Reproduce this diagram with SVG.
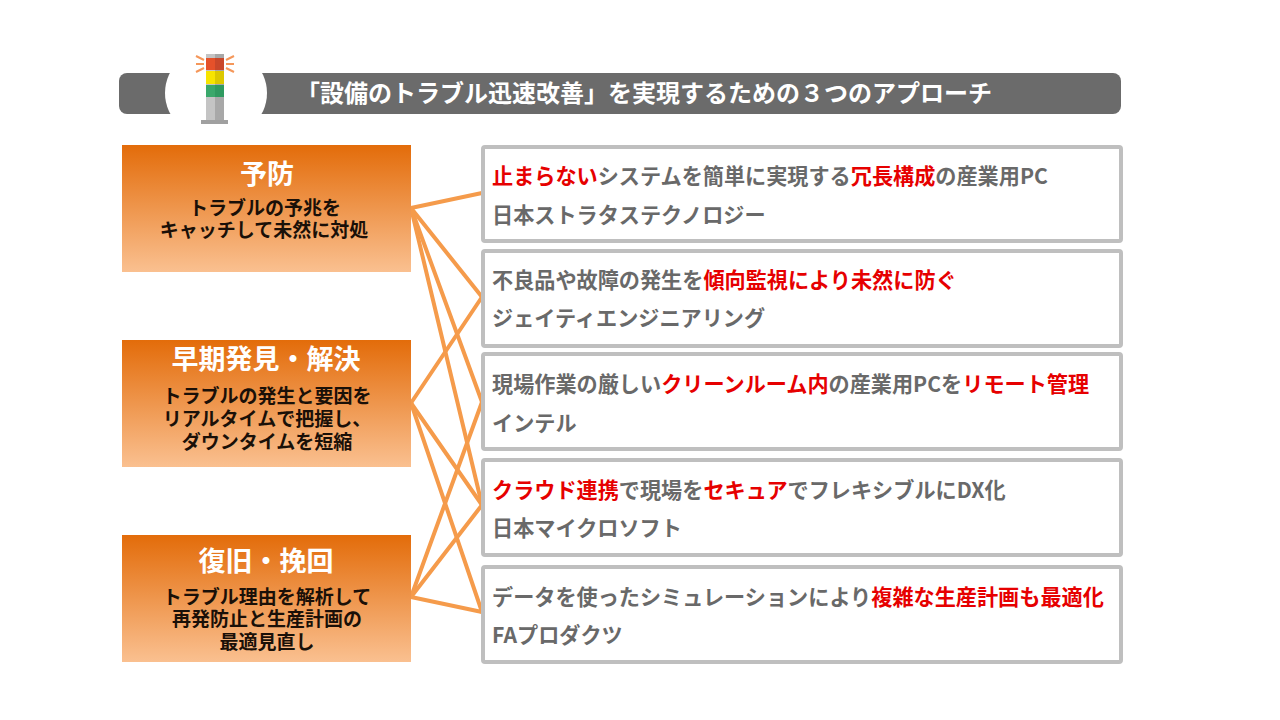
<svg xmlns="http://www.w3.org/2000/svg" width="1280" height="720" viewBox="0 0 1280 720">
<style>
text{font-family:"Noto Sans CJK JP","Noto Sans",sans-serif;font-weight:700}
.h{font-size:27px;fill:#fff;text-anchor:middle}
.s{font-size:19px;fill:#1a1008;text-anchor:middle}
.t{font-size:21.15px;fill:#696969}
.r{fill:#e60000}
.n{fill:#fff;stroke:#bfbfbf;stroke-width:4;}
.c line{stroke:#f59b4b;stroke-width:4;stroke-linecap:round}
</style>
<defs>
<linearGradient id="g" x1="0" y1="0" x2="0" y2="1"><stop offset="0" stop-color="#e36c0a"/><stop offset="1" stop-color="#fac090"/></linearGradient>
<linearGradient id="p" x1="0" y1="0" x2="1" y2="0"><stop offset="0" stop-color="#c4c4c4"/><stop offset="0.5" stop-color="#c4c4c4"/><stop offset="0.5" stop-color="#a8a8a8"/><stop offset="1" stop-color="#a8a8a8"/></linearGradient>
</defs>
<rect width="1280" height="720" fill="#fff"/>
<g id="title">
<rect x="119" y="73" width="1002" height="41" rx="8" fill="#6b6b6b"/>
<ellipse cx="216" cy="93" rx="51" ry="47" fill="#fff"/>
<text x="644" y="102" font-size="24px" fill="#fff" text-anchor="middle">「設備のトラブル迅速改善」を実現するための３つのアプローチ</text>
</g>
<g id="lamp">
<rect x="206" y="54" width="18" height="66" fill="url(#p)"/>
<rect x="206" y="58" width="9" height="12" fill="#e5512a"/><rect x="215" y="58" width="9" height="12" fill="#c9472a"/>
<rect x="206" y="71" width="9" height="13" fill="#f7e400"/><rect x="215" y="71" width="9" height="13" fill="#dcc800"/>
<rect x="206" y="85" width="9" height="12" fill="#3aa86b"/><rect x="215" y="85" width="9" height="12" fill="#2f9a60"/>
<rect x="201" y="120" width="27" height="4" fill="#a0a0a0"/>
<g stroke="#f5975a" stroke-width="2" fill="none"><path d="M196 56l8 4M196 64h8M196 72l8-4M234 56l-8 4M234 64h-8M234 72l-8-4"/></g>
</g>
<g id="connectors" class="c">
<line x1="411" y1="208" x2="482" y2="193"/>
<line x1="411" y1="208" x2="482" y2="297"/>
<line x1="411" y1="208" x2="482" y2="402"/>
<line x1="411" y1="208" x2="482" y2="505"/>
<line x1="411" y1="403" x2="482" y2="297"/>
<line x1="411" y1="403" x2="482" y2="505"/>
<line x1="411" y1="403" x2="482" y2="612"/>
<line x1="411" y1="597" x2="482" y2="402"/>
<line x1="411" y1="597" x2="482" y2="505"/>
<line x1="411" y1="597" x2="482" y2="612"/>
</g>
<g id="left1"><rect x="122" y="145" width="289" height="127" fill="url(#g)"/>
<text class="h" x="267" y="184">予防</text>
<text class="s" x="265" y="215">トラブルの予兆を</text>
<text class="s" x="264" y="237">キャッチして未然に対処</text></g>
<g id="left2"><rect x="122" y="340" width="289" height="127" fill="url(#g)"/>
<text class="h" x="266" y="369">早期発見・解決</text>
<text class="s" x="267" y="403">トラブルの発生と要因を</text>
<text class="s" x="267" y="426">リアルタイムで把握し、</text>
<text class="s" x="267" y="449">ダウンタイムを短縮</text></g>
<g id="left3"><rect x="122" y="535" width="289" height="127" fill="url(#g)"/>
<text class="h" x="266" y="571">復旧・挽回</text>
<text class="s" x="267" y="604">トラブル理由を解析して</text>
<text class="s" x="267" y="626">再発防止と生産計画の</text>
<text class="s" x="267" y="649">最適見直し</text></g>
<g id="box1"><rect class="n" x="483" y="147" width="638" height="94" rx="2"/>
<text class="t" x="492" y="184"><tspan class="r">止まらない</tspan>システムを簡単に実現する<tspan class="r">冗長構成</tspan>の産業用PC</text>
<text class="t" x="492" y="223">日本ストラタステクノロジー</text></g>
<g id="box2"><rect class="n" x="483" y="251" width="638" height="95" rx="2"/>
<text class="t" x="492" y="288">不良品や故障の発生を<tspan class="r">傾向監視により未然に防ぐ</tspan></text>
<text class="t" x="492" y="326">ジェイティエンジニアリング</text></g>
<g id="box3"><rect class="n" x="483" y="354" width="638" height="95" rx="2"/>
<text class="t" x="492" y="392">現場作業の厳しい<tspan class="r">クリーンルーム内</tspan>の産業用PCを<tspan class="r">リモート管理</tspan></text>
<text class="t" x="492" y="431">インテル</text></g>
<g id="box4"><rect class="n" x="483" y="460" width="638" height="95" rx="2"/>
<text class="t" x="492" y="498"><tspan class="r">クラウド連携</tspan>で現場を<tspan class="r">セキュア</tspan>でフレキシブルにDX化</text>
<text class="t" x="492" y="536">日本マイクロソフト</text></g>
<g id="box5"><rect class="n" x="483" y="567" width="638" height="95" rx="2"/>
<text class="t" x="492" y="605">データを使ったシミュレーションにより<tspan class="r">複雑な生産計画も最適化</tspan></text>
<text class="t" x="492" y="643">FAプロダクツ</text></g>
</svg>
